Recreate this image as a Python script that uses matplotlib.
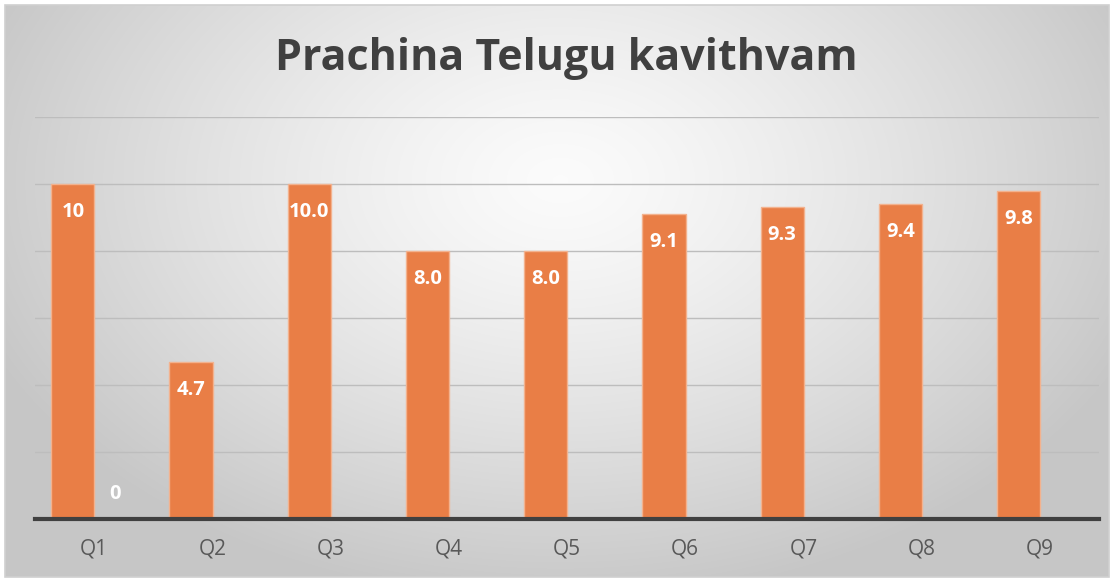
import numpy as np
import matplotlib
matplotlib.use("Agg")
import matplotlib.pyplot as plt

# Chart data
categories = ["Q1", "Q2", "Q3", "Q4", "Q5", "Q6", "Q7", "Q8", "Q9"]
scores = [10, 4.7, 10.0, 8.0, 8.0, 9.1, 9.3, 9.4, 9.8]
score_labels = ["10", "4.7", "10.0", "8.0", "8.0", "9.1", "9.3", "9.4", "9.8"]
second_scores = [0, None, None, None, None, None, None, None, None]
second_labels = ["0", "", "", "", "", "", "", "", ""]
y_max = 12
y_step = 2

W, H, DPI = 1112, 580, 100
fig = plt.figure(figsize=(W / DPI, H / DPI), dpi=DPI)
fig.patch.set_facecolor("white")

# Radial gradient background for the chart area
bg = fig.add_axes([0, 0, 1, 1], zorder=-10)
bg.set_axis_off()
yy, xx = np.mgrid[0:H, 0:W]
cx, cy = 560, 180
r = np.sqrt(((xx - cx) / 620.0) ** 2 + ((yy - cy) / 420.0) ** 2)
r = np.clip(r, 0, 1)
light, dark = 0.985, 0.78
vals = light - (light - dark) * r ** 1.3
img = np.dstack([vals, vals, vals])
bg.imshow(img, extent=[0, W, H, 0], aspect="auto", interpolation="bilinear")
bg.set_xlim(0, W)
bg.set_ylim(H, 0)
# white margin and thin border around the chart area
for side in [(0, 0, W, 5), (0, H - 3, W, 3), (0, 0, 5, H), (W - 3, 0, 3, H)]:
    bg.add_patch(plt.Rectangle((side[0], side[1]), side[2], side[3],
                               facecolor="white", edgecolor="none", zorder=2))
bg.add_patch(plt.Rectangle((5, 5), W - 8.5, H - 8.5, facecolor="none",
                           edgecolor="#d0d0d0", lw=1.2, zorder=3))

# Plot area
left, right = 35, 1099
top, bottom = 117, 519
ax = fig.add_axes([left / W, (H - bottom) / H, (right - left) / W, (bottom - top) / H])
ax.patch.set_alpha(0)
n = len(categories)
x = np.arange(n) + 0.5
bar_w = 0.365
off = 0.18
bar_color = "#E97E46"

ax.bar(x - off, scores, width=bar_w, color=bar_color, edgecolor="#F3B28E",
       linewidth=1.0, zorder=3)
sec_vals = [v if v is not None else 0 for v in second_scores]
ax.bar(x + off, sec_vals, width=bar_w, color=bar_color, edgecolor="none",
       linewidth=0, zorder=3)

label_font = dict(ha="center", va="center", color="white", fontsize=14.5,
                  fontweight="bold", family="Open Sans", zorder=5)
for xi, v, lab in zip(x - off, scores, score_labels):
    ax.annotate(lab, (xi, v), xytext=(0, -28), textcoords="offset pixels",
                **label_font)
for xi, v, lab in zip(x + off, second_scores, second_labels):
    if v is not None:
        ax.annotate(lab, (xi, v), xytext=(0, 25), textcoords="offset pixels",
                    **label_font)

ax.set_xlim(0, n)
ax.set_ylim(0, y_max)
ax.set_yticks(np.arange(0, y_max + 1, y_step))
ax.grid(axis="y", color="#bdbdbd", linewidth=1.0, zorder=0)
ax.set_axisbelow(True)
ax.tick_params(axis="y", length=0, labelleft=False)
ax.set_xticks(x)
ax.set_xticklabels(categories, fontsize=15, color="#595959", family="Open Sans")
ax.tick_params(axis="x", length=0, pad=14)
for s in ["top", "right", "left"]:
    ax.spines[s].set_visible(False)
ax.spines["bottom"].set_color("#404040")
ax.spines["bottom"].set_linewidth(3)
ax.spines["bottom"].set_zorder(6)

fig.text(566 / W, 1 - 58 / H, "Prachina Telugu kavithvam", ha="center",
         va="center", fontsize=31, fontweight="bold", color="#404040",
         family="Open Sans")

fig.savefig("out.png", dpi=DPI)
